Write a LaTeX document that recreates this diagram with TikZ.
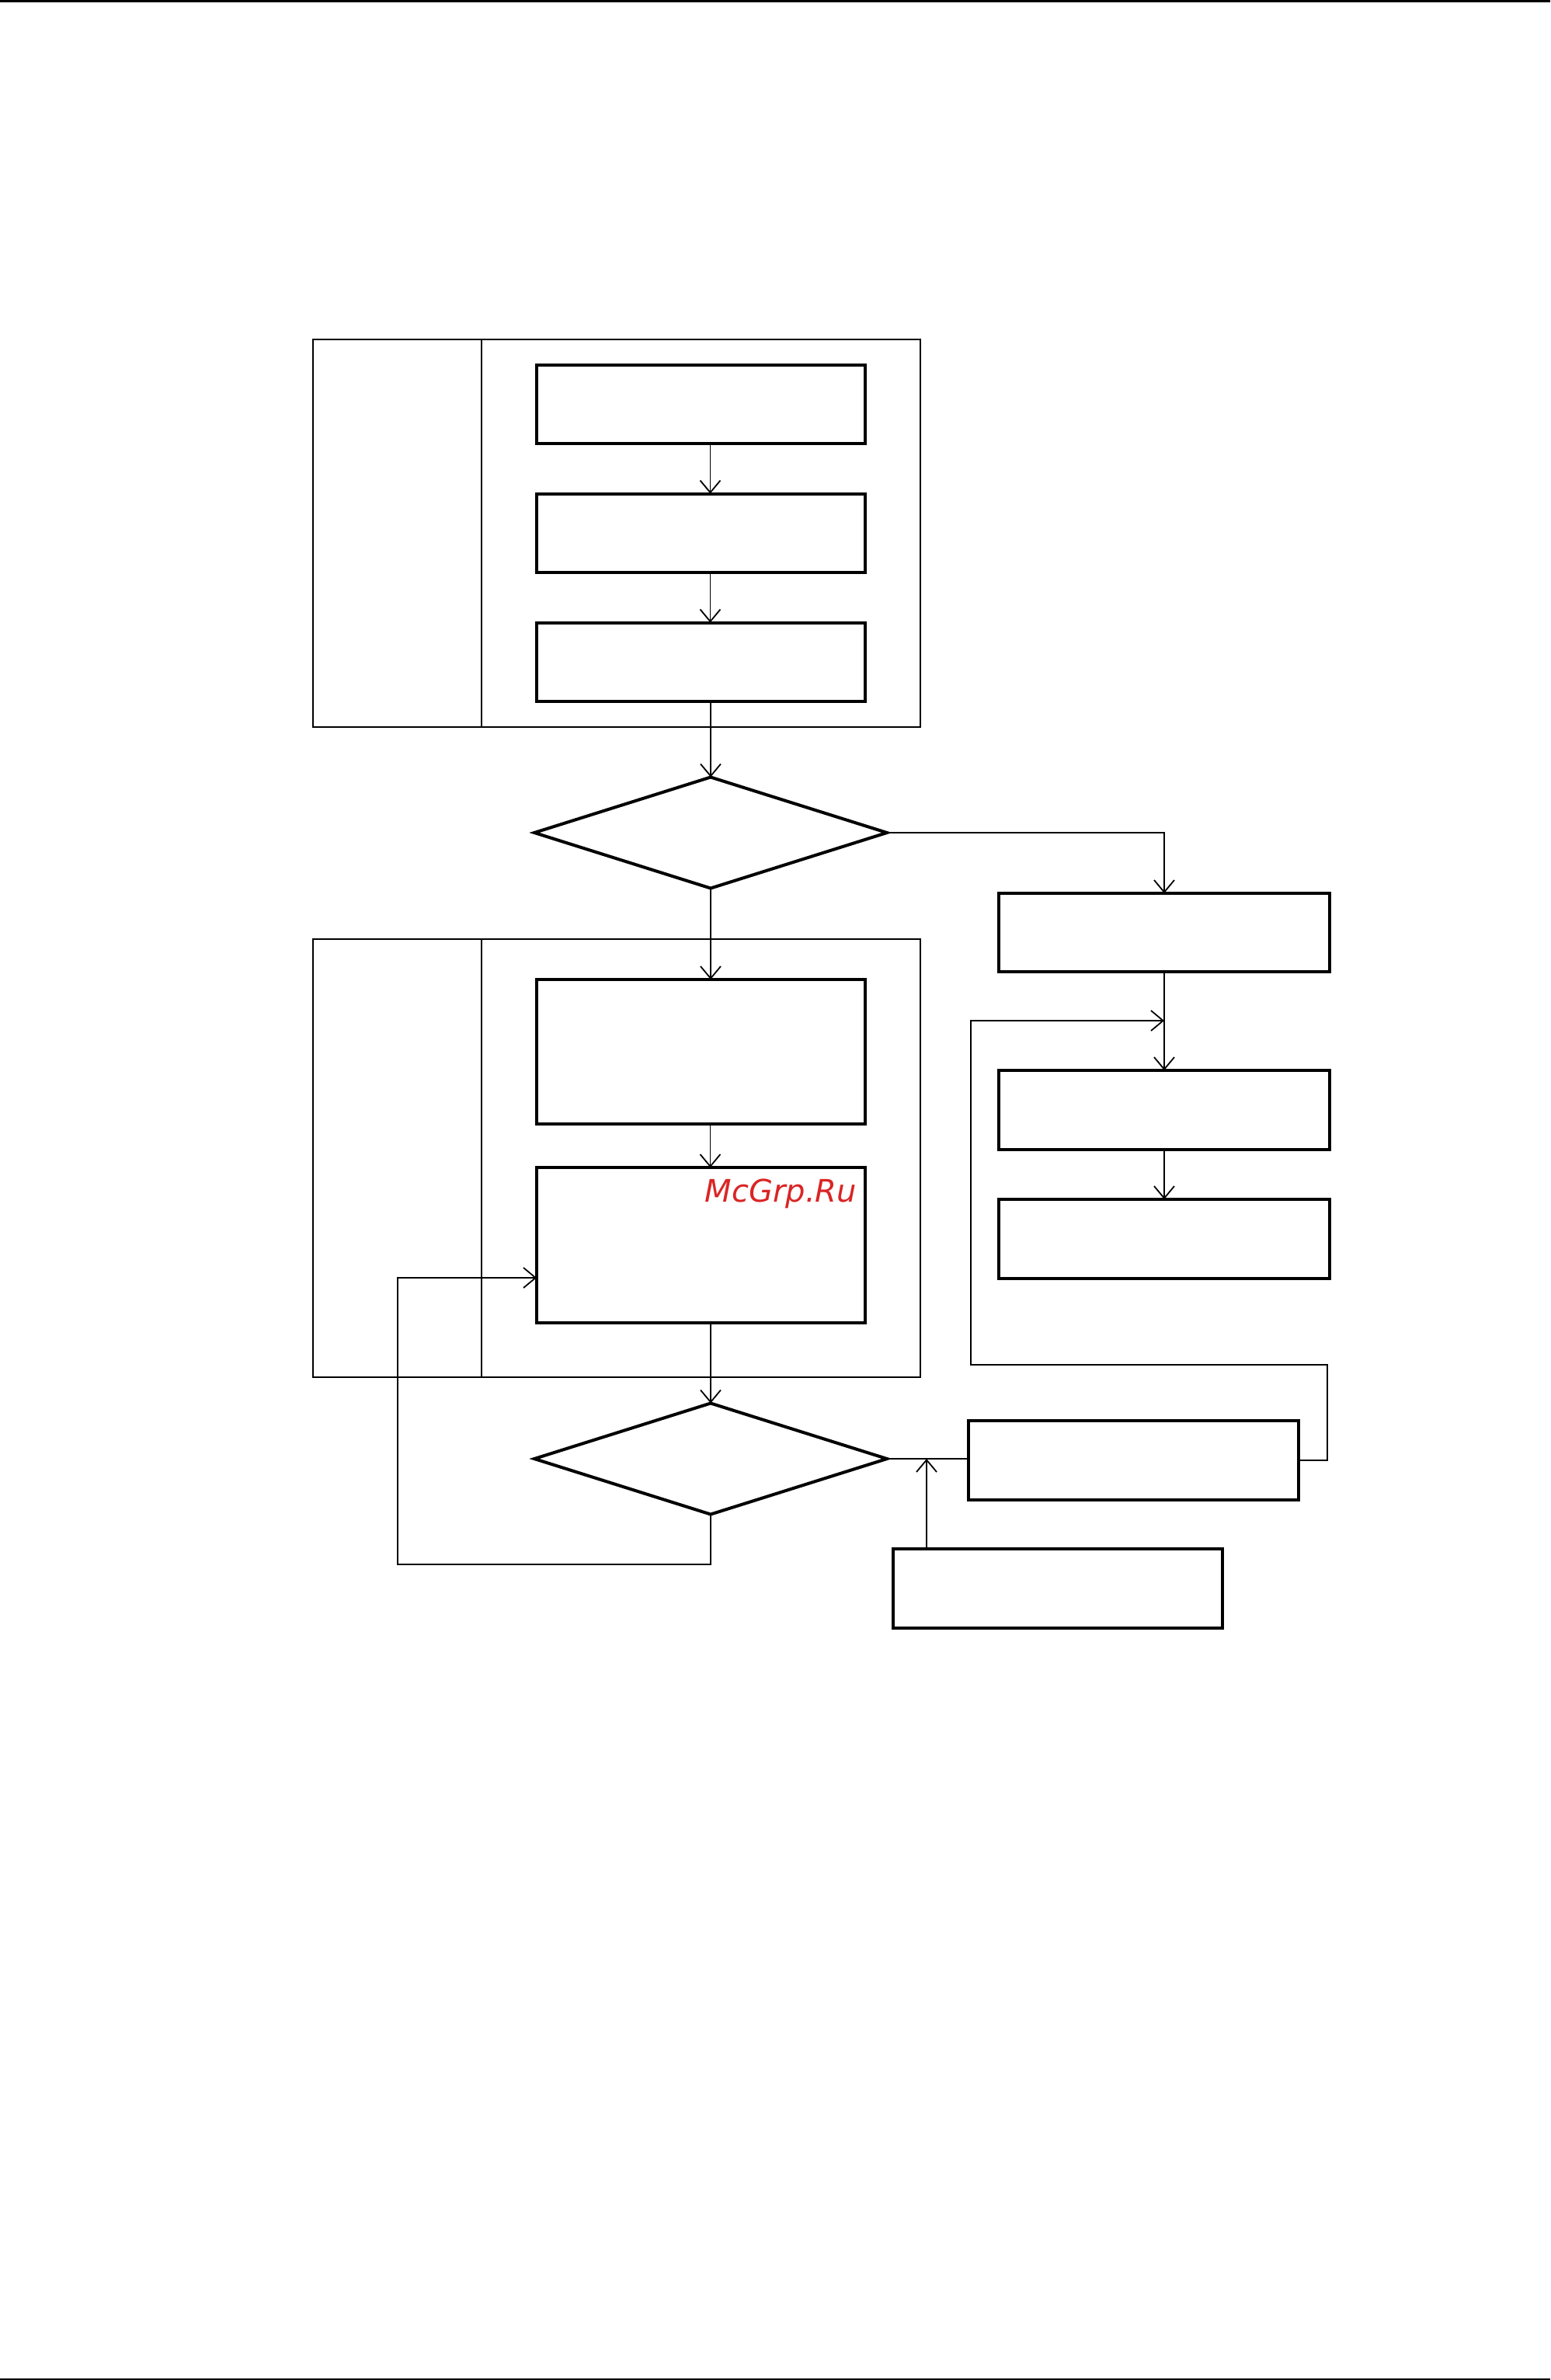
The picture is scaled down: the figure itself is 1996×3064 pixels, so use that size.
\documentclass[tikz,border=0pt]{standalone}
\usepackage{fontspec}
\newfontfamily\wmfont{DejaVu Sans}
\usetikzlibrary{shapes.geometric,arrows.meta}
\definecolor{wmred}{RGB}{218,37,37}
\begin{document}
\begin{tikzpicture}[x=0.25pt,y=-0.25pt,
  bx/.style 2 args={draw,line width=1pt,rectangle,inner sep=0pt,outer sep=0pt,
     minimum width=#1*0.25pt,minimum height=#2*0.25pt},
  dm/.style={draw,line width=1pt,diamond,inner sep=0pt,outer sep=0pt,
     minimum width=454*0.25pt,minimum height=143*0.25pt},
  fr/.style 2 args={draw,line width=0.4pt,rectangle,inner sep=0pt,outer sep=0pt,
     minimum width=#1*0.25pt,minimum height=#2*0.25pt},
  ln/.style={line width=0.45pt},
  arr/.style={ln,-{Straight Barb[length=3.9pt,width=6.5pt]}}]
\useasboundingbox (0,0) rectangle (1996,3064);
% page rules
\fill (0,0) rectangle (1996,2.5);
\fill (0,3061.5) rectangle (1996,3064);
% frames
\node[fr={782}{499}] (f1) at (794,686.5) {};
\draw[ln] ([xshift=54.25pt]f1.north west) -- ([xshift=54.25pt]f1.south west);
\node[fr={782}{564}] (f2) at (794,1491) {};
\draw[ln] ([xshift=54.25pt]f2.north west) -- ([xshift=54.25pt]f2.south west);
% boxes
\node[bx={423}{101}] (b1) at (902.5,520.5) {};
\node[bx={423}{101}] (b2) at (902.5,686) {};
\node[bx={423}{101}] (b3) at (902.5,852) {};
\node[dm] (d1) at (915,1072) {};
\node[bx={426}{101}] (rA) at (1499,1200.5) {};
\node[bx={426}{102}] (rB) at (1499,1429) {};
\node[bx={426}{102}] (rC) at (1499,1595) {};
\node[bx={423}{186}] (b4) at (902.5,1354) {};
\node[bx={423}{200}] (b5) at (902.5,1603) {};
\node[dm] (d2) at (915,1878) {};
\node[bx={425}{102}] (rD) at (1459.5,1880) {};
\node[bx={424}{102}] (rE) at (1362,2045) {};
% watermark
\node[anchor=base west,inner sep=0pt,text=wmred,
      font=\wmfont\fontsize{10pt}{12pt}\selectfont\itshape] (wm) at (907,1547) {McGrp.Ru};
% connectors
\coordinate (ax) at (914.5,0);
\coordinate (ex) at (1193,0);
\coordinate (l1) at (512,2014);
\coordinate (l1t) at (512,1645);
\coordinate (lp1) at (1709,1757);
\coordinate (lp2) at (1250,1314);
\draw[arr] (b1.south -| ax) -- (b2.north -| ax);
\draw[arr] (b2.south -| ax) -- (b3.north -| ax);
\draw[arr] (b3.south -| d1.north) -- (d1.north);
\draw[arr] (d1.east) -| (rA.north);
\draw[arr] (d1.south) -- (b4.north -| d1.south);
\draw[arr] (b4.south -| ax) -- (b5.north -| ax);
\draw[arr] (b5.south -| d2.north) -- (d2.north);
\draw[arr] (d2.south) |- (l1) -- (l1t) -- (b5.west |- l1t);
\draw[ln] (d2.east) -- (rD.west |- d2.east);
\draw[arr] (rE.north -| ex) -- (d2.east -| ex);
\draw[arr] (rD.east) -| (lp1) -| (lp2) -- (rA.south |- lp2);
\draw[arr] (rA.south) -- (rB.north);
\draw[arr] (rB.south) -- (rC.north);
\end{tikzpicture}
\end{document}
